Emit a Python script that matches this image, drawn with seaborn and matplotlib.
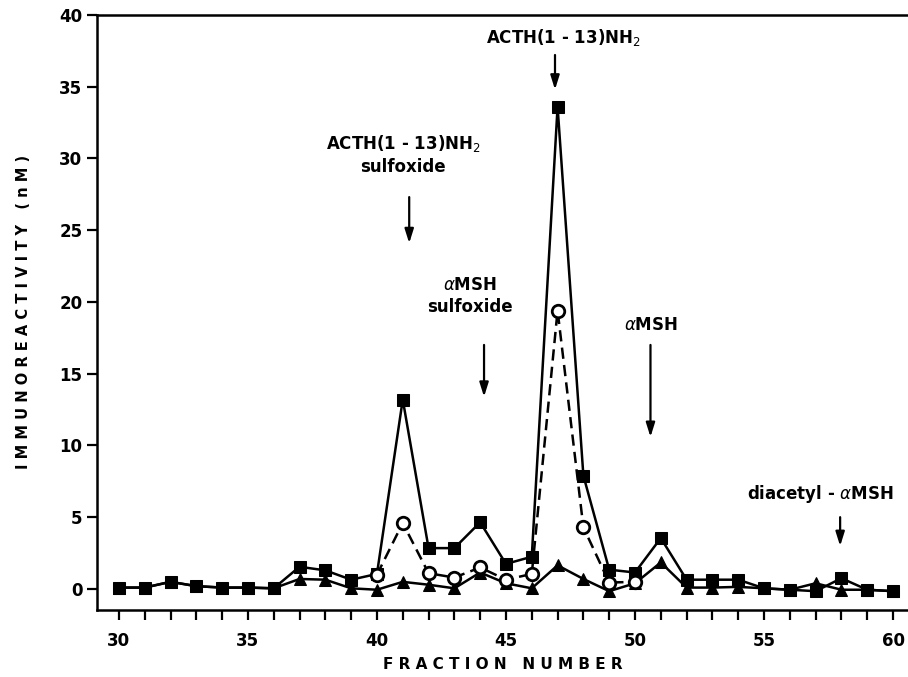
import numpy as np
import pandas as pd
import seaborn as sns
import matplotlib
matplotlib.use("Agg")
import matplotlib.pyplot as plt

# ---- data ----
fractions = list(range(30, 61))
squares = [0.1, 0.1, 0.5, 0.2, 0.1, 0.1, 0.05, 1.55, 1.3, 0.65, 1.05, 13.2, 2.85, 2.85,
           4.65, 1.75, 2.25, 33.6, 7.9, 1.35, 1.15, 3.55, 0.65, 0.65, 0.65, 0.05, -0.05,
           -0.15, 0.75, -0.05, -0.15]
triangles = [0.1, 0.1, 0.5, 0.2, 0.1, 0.1, 0.05, 0.7, 0.65, 0.05, -0.05, 0.5, 0.3, 0.05,
             1.15, 0.4, 0.05, 1.65, 0.7, -0.15, 0.4, 1.85, 0.1, 0.1, 0.15, 0.05, -0.05,
             0.4, -0.05, -0.05, -0.15]
circle_fractions = list(range(40, 51))
circles = [1.0, 4.6, 1.1, 0.8, 1.5, 0.65, 1.05, 19.4, 4.3, 0.45, 0.5]

x_ticklabels = ["30", "35", "40", "45", "50", "55", "60"]
y_ticklabels = ["0", "5", "10", "15", "20", "25", "30", "35", "40"]

annotations = [
    ("ACTH(1 - 13)NH$_2$", 46.9),
    ("ACTH(1 - 13)NH$_2$\nsulfoxide", 41.25),
    ("$\\alpha$MSH\nsulfoxide", 44.15),
    ("$\\alpha$MSH", 50.6),
    ("diacetyl - $\\alpha$MSH", 57.95),
]

sns.set_theme(style="ticks")
plt.rcParams["font.family"] = ["DejaVu Sans"]
plt.rcParams["mathtext.fontset"] = "dejavusans"
plt.rcParams["text.color"] = "black"
plt.rcParams["axes.labelcolor"] = "black"
plt.rcParams["xtick.color"] = "black"
plt.rcParams["ytick.color"] = "black"

fig = plt.figure(figsize=(9.08, 6.77), dpi=100)
ax = fig.add_axes([0.1068, 0.099, 0.8932, 0.879])

df_sq = pd.DataFrame({"x": fractions, "y": squares})
df_tr = pd.DataFrame({"x": fractions, "y": triangles})
df_ci = pd.DataFrame({"x": circle_fractions, "y": circles})

sns.lineplot(data=df_tr, x="x", y="y", ax=ax, color="black", linewidth=1.8,
             marker="^", markersize=8, markerfacecolor="black", markeredgecolor="black",
             zorder=3)
sns.lineplot(data=df_sq, x="x", y="y", ax=ax, color="black", linewidth=1.8,
             marker="s", markersize=9, markerfacecolor="black", markeredgecolor="black",
             zorder=4)
sns.lineplot(data=df_ci, x="x", y="y", ax=ax, color="black", linewidth=1.8,
             linestyle=(0, (4.5, 2.5)), marker="o", markersize=9, markerfacecolor="white",
             markeredgecolor="black", markeredgewidth=2, zorder=5)

ax.set_xlim(29.15, 60.58)
ax.set_ylim(-1.46, 40)
ax.set_xticks(np.arange(30, 61, 5))
ax.set_xticks(np.arange(30, 61, 1), minor=True)
ax.set_xticklabels(x_ticklabels)
ax.set_yticks(np.arange(0, 41, 5))
ax.set_yticklabels(y_ticklabels)
ax.tick_params(axis="both", which="major", direction="out", length=7, width=1.6,
               labelsize=12, colors="black")
ax.tick_params(axis="x", which="minor", direction="out", length=7, width=1.6)
ax.tick_params(axis="x", which="major", pad=9)
for lab in ax.get_xticklabels() + ax.get_yticklabels():
    lab.set_fontweight("bold")

for side in ["left", "bottom", "top"]:
    ax.spines[side].set_visible(True)
    ax.spines[side].set_linewidth(1.8)
    ax.spines[side].set_color("black")
ax.spines["right"].set_visible(False)

ax.set_xlabel("F R A C T I O N   N U M B E R", fontsize=11, fontweight="bold", labelpad=5)
ax.set_ylabel("I M M U N O R E A C T I V I T Y   ( n M )", fontsize=10.5, fontweight="bold", labelpad=20)

arrow_kw = dict(arrowstyle="-|>,head_length=0.7,head_width=0.22", color="black", lw=1.6)

# ACTH(1-13)NH2
ax.annotate("", xy=(annotations[0][1], 34.6), xytext=(annotations[0][1], 37.4), arrowprops=arrow_kw)
ax.text(47.2, 38.4, annotations[0][0], ha="center", va="center", fontsize=12, fontweight="bold")
# ACTH sulfoxide
ax.annotate("", xy=(annotations[1][1], 23.9), xytext=(annotations[1][1], 27.5), arrowprops=arrow_kw)
ax.text(41.0, 30.3, annotations[1][0], ha="center", va="center", fontsize=12,
        fontweight="bold", linespacing=1.3)
# aMSH sulfoxide
ax.annotate("", xy=(annotations[2][1], 13.2), xytext=(annotations[2][1], 17.2), arrowprops=arrow_kw)
ax.text(43.6, 20.4, annotations[2][0], ha="center", va="center", fontsize=12,
        fontweight="bold", linespacing=1.3)
# aMSH
ax.annotate("", xy=(annotations[3][1], 10.4), xytext=(annotations[3][1], 17.2), arrowprops=arrow_kw)
ax.text(50.6, 18.4, annotations[3][0], ha="center", va="center", fontsize=12, fontweight="bold")
# diacetyl-aMSH
ax.annotate("", xy=(annotations[4][1], 2.8), xytext=(annotations[4][1], 5.2), arrowprops=arrow_kw)
ax.text(57.2, 6.6, annotations[4][0], ha="center", va="center", fontsize=12, fontweight="bold")

fig.savefig("out.png", dpi=100)
